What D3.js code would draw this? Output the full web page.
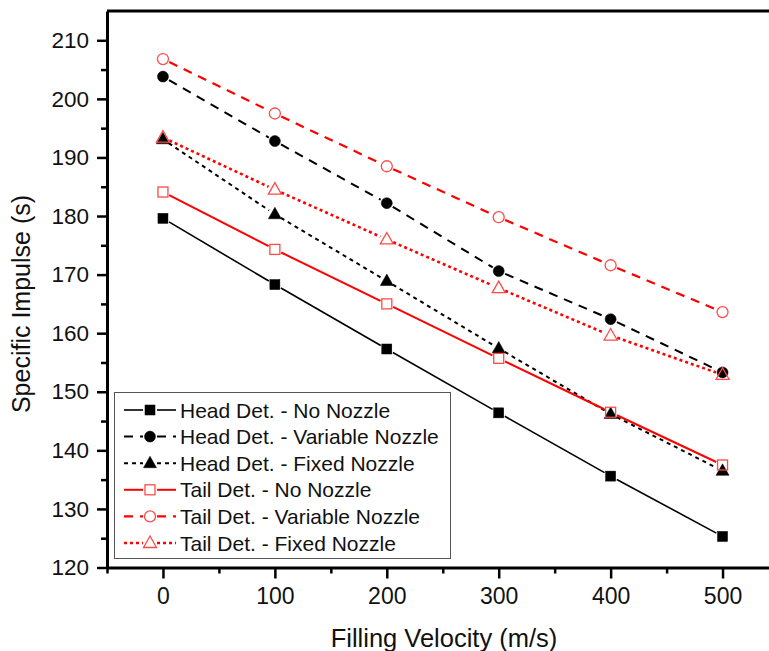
<!DOCTYPE html>
<html>
<head>
<meta charset="utf-8">
<script src="https://cdn.jsdelivr.net/npm/d3@7"></script>
<style>
  body { margin: 0; background: #fff; }
  svg { display: block; font-family: Arial, "Liberation Sans", sans-serif; }
</style>
</head>
<body>
<svg id="chart" width="769" height="651"></svg>
<script>
// filling velocity (m/s)
const velocity = [0, 100, 200, 300, 400, 500];

// specific impulse (s)
const headNoNozzle = [179.6, 168.3, 157.3, 146.4, 135.6, 125.3];
const headVariableNozzle = [203.8, 192.8, 182.2, 170.6, 162.4, 153.3];
const headFixedNozzle = [193.1, 180.3, 168.9, 157.4, 146.2, 136.5];
const tailNoNozzle = [184.1, 174.3, 165.0, 155.7, 146.5, 137.5];
const tailVariableNozzle = [206.8, 197.5, 188.5, 179.8, 171.6, 163.6];
const tailFixedNozzle = [193.4, 184.5, 176.0, 167.7, 159.6, 152.9];

const seriesLabels = [
  'Head Det. - No Nozzle',
  'Head Det. - Variable Nozzle',
  'Head Det. - Fixed Nozzle',
  'Tail Det. - No Nozzle',
  'Tail Det. - Variable Nozzle',
  'Tail Det. - Fixed Nozzle'
];
const seriesValues = [headNoNozzle, headVariableNozzle, headFixedNozzle,
  tailNoNozzle, tailVariableNozzle, tailFixedNozzle];

const xTicks = [0, 100, 200, 300, 400, 500];
const yTicks = [120, 130, 140, 150, 160, 170, 180, 190, 200, 210];

// look of each series
const styles = [
  {color: '#000', dash: null, width: 1.6, shape: 'square', filled: true},
  {color: '#000', dash: '9,7', width: 2, shape: 'circle', filled: true},
  {color: '#000', dash: '4,4', width: 2, shape: 'triangle', filled: true},
  {color: '#ff0000', dash: null, width: 2, shape: 'square', filled: false},
  {color: '#ff0000', dash: '9,7', width: 2.2, shape: 'circle', filled: false},
  {color: '#ff0000', dash: '3,3', width: 2.6, shape: 'triangle', filled: false}
];

const svg = d3.select('#chart');
const plotLeft = 107, plotRight = 778.5, plotTop = 11, plotBottom = 567.5;

const x = d3.scaleLinear().domain([-50, 550]).range([plotLeft, plotRight]);
const y = d3.scaleLinear().domain([120, 215]).range([plotBottom, plotTop]);

// frame (top and right edges)
svg.append('path')
  .attr('d', `M${plotLeft},${plotTop}H${plotRight}V${plotBottom}`)
  .attr('fill', 'none')
  .attr('stroke', '#000')
  .attr('stroke-width', 3);

// minor ticks
const xMinor = d3.range(-50, 551, 50).filter(d => d % 100 !== 0);
const yMinor = d3.range(125, 215, 10);
svg.append('g')
  .attr('transform', `translate(0,${plotBottom})`)
  .call(d3.axisBottom(x).tickValues(xMinor).tickSize(6).tickFormat(''))
  .call(g => g.select('.domain').remove())
  .call(g => g.selectAll('line').attr('stroke-width', 2.5));
svg.append('g')
  .attr('transform', `translate(${plotLeft},0)`)
  .call(d3.axisLeft(y).tickValues(yMinor).tickSize(6).tickFormat(''))
  .call(g => g.select('.domain').remove())
  .call(g => g.selectAll('line').attr('stroke-width', 2.5));

// major axes
const xAxisG = svg.append('g')
  .attr('transform', `translate(0,${plotBottom})`)
  .call(d3.axisBottom(x).tickValues(xTicks).tickSize(11).tickSizeOuter(0).tickPadding(9));
const yAxisG = svg.append('g')
  .attr('transform', `translate(${plotLeft},0)`)
  .call(d3.axisLeft(y).tickValues(yTicks).tickSize(10).tickSizeOuter(0).tickPadding(8));

[xAxisG, yAxisG].forEach(g => {
  g.select('.domain').attr('stroke-width', 3);
  g.selectAll('line').attr('stroke-width', 2.5);
  g.selectAll('text')
    .style('font-family', 'Arial, "Liberation Sans", sans-serif')
    .style('font-size', '22.5px')
    .attr('fill', '#111');
});
xAxisG.selectAll('text').style('font-size', '23px');

// axis titles
svg.append('text')
  .attr('x', 444)
  .attr('y', 647)
  .attr('text-anchor', 'middle')
  .style('font-size', '25.5px')
  .attr('fill', '#111')
  .text('Filling Velocity (m/s)');
svg.append('text')
  .attr('transform', 'translate(30,304) rotate(-90)')
  .attr('text-anchor', 'middle')
  .style('font-size', '25px')
  .attr('fill', '#111')
  .text('Specific Impulse (s)');

// marker drawing
function marker(g, shape, s, filled) {
  const fill = filled ? s.color : 'none';
  let m;
  if (shape === 'square') {
    m = g.append('rect').attr('x', -5).attr('y', -5).attr('width', 10).attr('height', 10);
  } else if (shape === 'circle') {
    m = g.append('circle').attr('r', 5.5);
  } else {
    m = g.append('path').attr('d', 'M0,-7L6.5,4.5L-6.5,4.5Z');
  }
  m.attr('fill', fill)
    .attr('stroke', s.color)
    .attr('stroke-width', filled ? 0.5 : 1.3);
  if (!filled) m.attr('stroke', '#ff4a4a');
}

const gap = 7;
const plot = svg.append('g');

seriesValues.forEach((vals, i) => {
  const s = styles[i];
  const pts = velocity.map((v, j) => [x(v), y(vals[j])]);
  const line = d3.line();
  for (let j = 0; j < pts.length - 1; j++) {
    const [x0, y0] = pts[j], [x1, y1] = pts[j + 1];
    const len = Math.hypot(x1 - x0, y1 - y0);
    const ux = (x1 - x0) / len, uy = (y1 - y0) / len;
    plot.append('path')
      .attr('d', line([[x0 + ux * gap, y0 + uy * gap], [x1 - ux * gap, y1 - uy * gap]]))
      .attr('fill', 'none')
      .attr('stroke', s.color)
      .attr('stroke-width', s.width)
      .attr('stroke-dasharray', s.dash);
  }
});

seriesValues.forEach((vals, i) => {
  const s = styles[i];
  plot.selectAll(null)
    .data(velocity.map((v, j) => ({v, val: vals[j]})))
    .join('g')
    .attr('transform', d => `translate(${x(d.v)},${y(d.val)})`)
    .each(function() { marker(d3.select(this), s.shape, s, s.filled); });
});

// legend
const legend = svg.append('g');
legend.append('rect')
  .attr('x', 114.5).attr('y', 392.5)
  .attr('width', 336).attr('height', 166)
  .attr('fill', '#fff')
  .attr('stroke', '#555')
  .attr('stroke-width', 1);

seriesLabels.forEach((label, i) => {
  const s = styles[i];
  const ly = 410 + i * 26.6;
  const row = legend.append('g').attr('transform', `translate(0,${ly})`);
  [[124, 143], [157, 176]].forEach(([a, b]) => {
    row.append('line')
      .attr('x1', a).attr('x2', b)
      .attr('stroke', s.color)
      .attr('stroke-width', s.width)
      .attr('stroke-dasharray', s.dash);
  });
  marker(row.append('g').attr('transform', 'translate(150,0)'), s.shape, s, s.filled);
  row.append('text')
    .attr('x', 180)
    .attr('dy', '0.36em')
    .style('font-size', '21px')
    .attr('fill', '#111')
    .text(label);
});
</script>
</body>
</html>
